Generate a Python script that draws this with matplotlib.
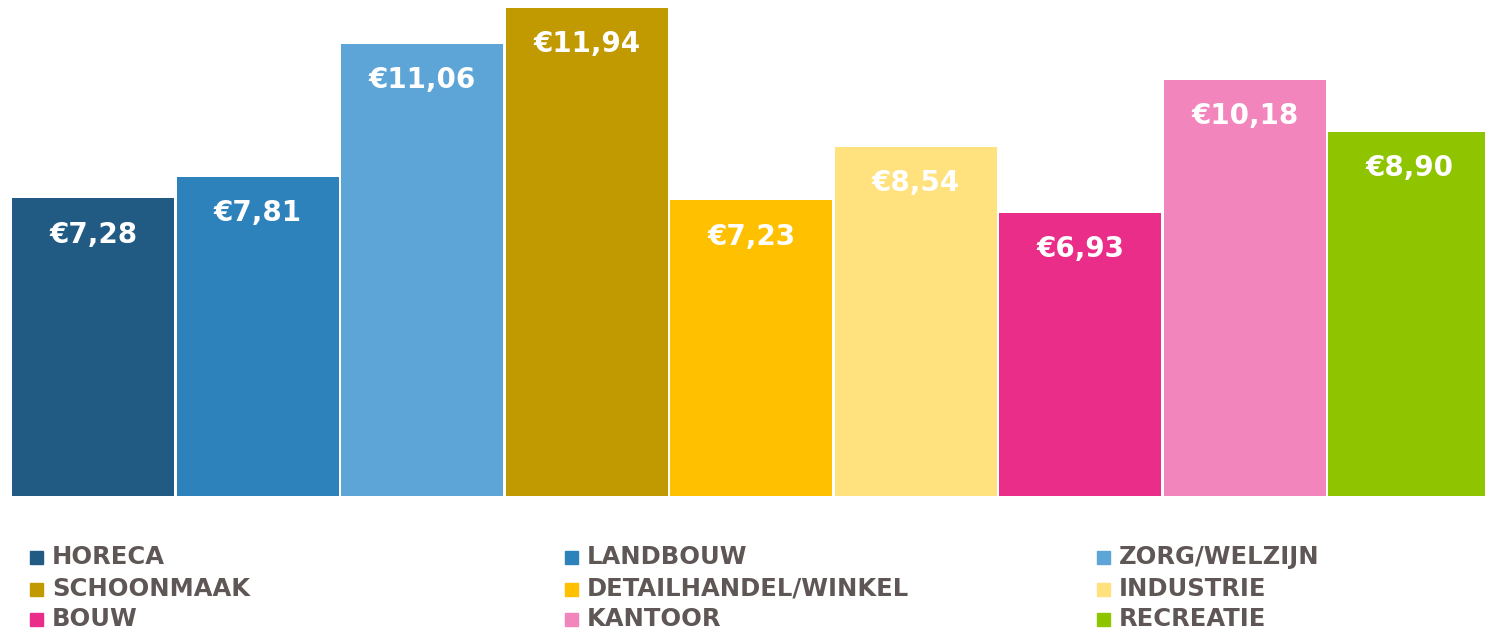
import matplotlib.pyplot as plt
from matplotlib.patches import Rectangle

sectors = ["HORECA", "LANDBOUW", "ZORG/WELZIJN", "SCHOONMAAK", "DETAILHANDEL/WINKEL",
           "INDUSTRIE", "BOUW", "KANTOOR", "RECREATIE"]
wages = [7.28, 7.81, 11.06, 11.94, 7.23, 8.54, 6.93, 10.18, 8.90]
colors = ["#215a82", "#2e82bc", "#5ca5d6", "#c09a00", "#ffc000",
          "#ffe17e", "#e92d89", "#f285bb", "#8fc400"]
text_color = "#5f5656"

W, H = 1485, 631
slot = 164.5  # px per bar, last bar runs off the right edge
fig = plt.figure(figsize=(W / 100, H / 100), dpi=100)
ax = fig.add_axes([11 / W, 1 - 496 / H, 9 * slot / W, (496 - 5.5) / H])

x = range(len(wages))
ax.bar(x, wages, width=0.982, color=colors)
ax.set_xlim(-0.5, len(wages) - 0.5)
ax.set_ylim(0, 12)
ax.axis("off")

for i, v in enumerate(wages):
    label = "€" + f"{v:.2f}".replace(".", ",")
    ax.annotate(label, (i, v), xytext=(0, -26), textcoords="offset points",
                ha="center", va="center", color="white", fontsize=20,
                fontweight="bold")

# legend, filled row by row in 3 columns
col_x = [30, 565, 1097]
row_y = [557, 589, 619]
for k, name in enumerate(sectors):
    r, c = divmod(k, 3)
    x0, y0 = col_x[c], row_y[r]
    fig.patches.append(Rectangle((x0 / W, 1 - (y0 + 7) / H), 13 / W, 13 / H,
                                 transform=fig.transFigure, color=colors[k]))
    fig.text((x0 + 22) / W, 1 - y0 / H, name, ha="left", va="center",
             fontsize=17.5, fontweight="bold", color=text_color)

fig.savefig("out.png", dpi=100)
